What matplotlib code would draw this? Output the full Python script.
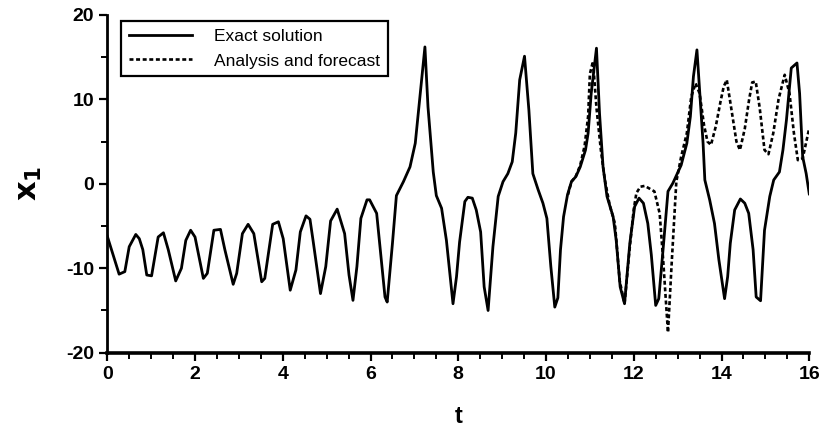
import matplotlib
matplotlib.use('Agg')
from matplotlib import pyplot
from matplotlib.ticker import MultipleLocator

# exact solution (t, x1)
t_exact = [0.00, 0.27, 0.40, 0.50, 0.65, 0.73, 0.81, 0.90, 1.01, 1.16, 1.28, 1.39,
           1.56, 1.69, 1.79, 1.90, 2.00, 2.19, 2.28, 2.43, 2.58, 2.68, 2.87, 2.95,
           3.08, 3.21, 3.34, 3.52, 3.59, 3.77, 3.90, 4.01, 4.17, 4.30, 4.40, 4.53,
           4.62, 4.69, 4.86, 4.98, 5.09, 5.24, 5.41, 5.51, 5.60, 5.69, 5.78, 5.92,
           5.98, 6.14, 6.23, 6.33, 6.38, 6.50, 6.59, 6.75, 6.90, 7.02, 7.24, 7.31,
           7.43, 7.50, 7.62, 7.73, 7.88, 7.96, 8.03, 8.15, 8.22, 8.32, 8.41, 8.51,
           8.59, 8.68, 8.79, 8.91, 9.02, 9.13, 9.23, 9.31, 9.40, 9.51, 9.61, 9.70,
           9.82, 9.93, 10.02, 10.11, 10.20, 10.27, 10.33, 10.40, 10.49, 10.58, 10.68,
           10.78, 10.90, 10.96, 11.03, 11.15, 11.22, 11.30, 11.39, 11.53, 11.60,
           11.69, 11.79, 11.91, 12.02, 12.12, 12.22, 12.32, 12.40, 12.50, 12.57,
           12.68, 12.78, 12.89, 13.08, 13.21, 13.29, 13.36, 13.44, 13.52, 13.58,
           13.62, 13.73, 13.84, 13.94, 14.07, 14.14, 14.20, 14.30, 14.43, 14.53,
           14.62, 14.72, 14.79, 14.89, 14.98, 15.10, 15.19, 15.32, 15.40, 15.48,
           15.59, 15.72, 15.78, 15.85, 15.93, 16.00]
x_exact = [-6.2, -10.7, -10.4, -7.45, -6.0, -6.5, -7.8, -10.8, -10.9, -6.3, -5.8, -7.8,
           -11.5, -10.0, -6.7, -5.5, -6.3, -11.2, -10.6, -5.5, -5.4, -7.8, -11.9, -10.6,
           -5.9, -4.8, -5.9, -11.6, -11.2, -4.8, -4.5, -6.5, -12.6, -10.2, -5.7, -3.8,
           -4.2, -6.7, -13.0, -9.8, -4.4, -3.0, -5.9, -10.8, -13.8, -9.8, -4.1, -1.9,
           -1.9, -3.5, -8.2, -13.4, -14.0, -7.05, -1.4, 0.25, 2.0, 4.8, 16.2, 9.1,
           1.4, -1.4, -2.9, -6.7, -14.2, -11.0, -6.9, -2.1, -1.6, -1.7, -3.1, -5.7,
           -12.2, -15.0, -7.45, -1.5, 0.25, 1.2, 2.6, 6.0, 12.3, 15.1, 8.7, 1.2,
           -0.7, -2.3, -4.1, -9.8, -14.6, -13.5, -7.8, -3.9, -1.3, 0.25, 0.85,
           2.0, 4.0, 6.0, 10.7, 16.05, 8.3, 2.0, -1.5, -3.9, -6.7,
           -12.2, -14.2, -7.05, -2.7, -1.7, -2.3, -4.7, -8.4, -14.4, -13.6,
           -7.05, -0.9, 0.06, 2.2, 4.8, 7.95, 12.7, 15.85, 9.5, 4.8,
           0.45, -1.9, -4.7, -9.0, -13.6, -11.0, -7.05, -3.1, -1.8, -2.3,
           -3.5, -7.8, -13.4, -13.85, -5.5, -1.5, 0.45, 1.4, 4.0, 7.55,
           13.7, 14.3, 10.7, 3.2, 1.2, -1.2]

# analysis and forecast (only the part that differs from the exact curve)
t_fc = [10.50, 10.58, 10.68, 10.78, 10.88, 10.96, 11.00, 11.07, 11.15, 11.25, 11.34,
        11.45, 11.57, 11.68, 11.79, 11.90, 12.00, 12.06, 12.15, 12.25, 12.47, 12.59,
        12.67, 12.78, 12.86, 12.97, 13.08, 13.21, 13.31, 13.41, 13.50, 13.60, 13.68,
        13.76, 13.87, 13.98, 14.05, 14.12, 14.22, 14.34, 14.42, 14.53, 14.63, 14.70,
        14.78, 14.87, 14.98, 15.07, 15.18, 15.30, 15.44, 15.55, 15.65, 15.74, 15.85,
        16.00]
x_fc = [-1.3, 0.25, 0.9, 2.2, 4.5, 8.0, 13.0, 14.5, 9.0, 4.0, 0.5,
        -2.5, -4.7, -11.5, -14.2, -8.0, -3.0, -1.1, -0.35, -0.25, -0.9, -3.5,
        -9.0, -17.6, -9.8, 0.25, 3.2, 6.0, 10.3, 11.9, 10.7, 7.0, 5.0,
        4.6, 6.8, 9.8, 11.5, 12.3, 9.0, 5.0, 4.0, 6.5, 10.0, 12.0,
        12.1, 9.0, 4.0, 3.5, 6.0, 10.0, 12.9, 10.7, 6.0, 2.8, 3.0,
        6.6]

pyplot.rcParams['font.family'] = ['Liberation Sans', 'DejaVu Sans']
pyplot.rcParams['axes.unicode_minus'] = False

fig = pyplot.figure(figsize=(8.22, 4.36), dpi=100)
ax = fig.add_axes([0.1305, 0.191, 0.854, 0.775])

ax.plot(t_exact, x_exact, color='black', linewidth=2.0, label='Exact solution')
ax.plot(t_fc, x_fc, color='black', linewidth=1.9, linestyle=(0, (1.5, 1.0)),
        label='Analysis and forecast')

ax.set_xlim(0, 16)
ax.set_ylim(-20, 20)
ax.xaxis.set_major_locator(MultipleLocator(2))
ax.xaxis.set_minor_locator(MultipleLocator(0.5))
ax.yaxis.set_major_locator(MultipleLocator(10))
ax.yaxis.set_minor_locator(MultipleLocator(5))
ax.tick_params(which='major', direction='out', length=6, width=1.6, labelsize=14)
ax.tick_params(which='minor', direction='out', length=4, width=1.4)
for lab in ax.get_xticklabels() + ax.get_yticklabels():
    lab.set_fontweight('bold')

ax.spines['top'].set_visible(False)
ax.spines['right'].set_visible(False)
ax.spines['left'].set_linewidth(2)
ax.spines['bottom'].set_linewidth(2.6)

ax.set_xlabel('t', fontsize=17, fontweight='bold', labelpad=16)
ax.set_ylabel(r'$\mathbf{x}_{\mathbf{1}}$', fontsize=22, labelpad=16)

leg = ax.legend(loc='upper left', bbox_to_anchor=(0.02, 0.982), fontsize=12.5,
                fancybox=False, framealpha=1, edgecolor='black', handlelength=3.6,
                handletextpad=1.3, borderpad=0.45, labelspacing=0.55, borderaxespad=0)
leg.get_frame().set_linewidth(1.6)

pyplot.savefig('out.png', dpi=100)
